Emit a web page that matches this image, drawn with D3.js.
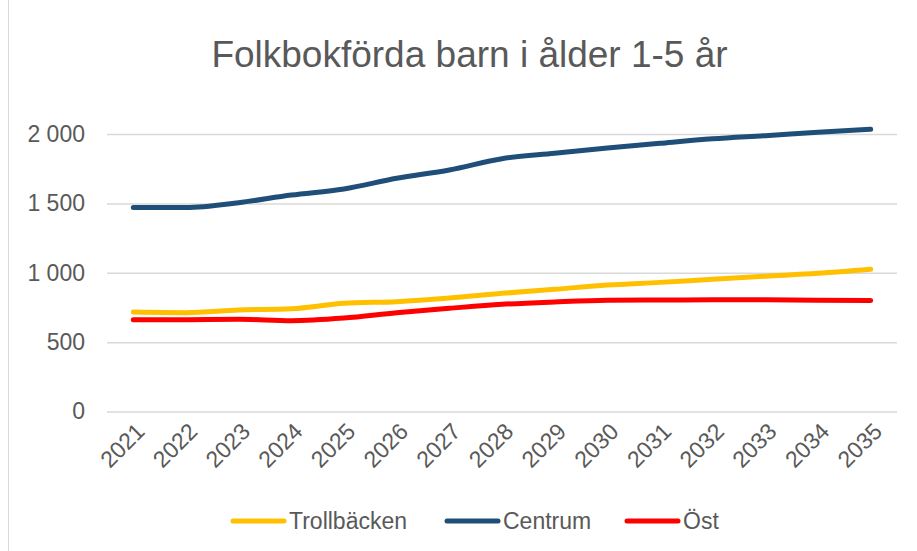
<!DOCTYPE html>
<html lang="sv">
  <head>
    <meta charset="UTF-8">
    <title>Folkbokförda barn i ålder 1-5 år</title>
    <script src="https://d3js.org/d3.v7.min.js"></script>
    <style>
      body { margin: 0; background: #fff; }
      text { font-family: "Liberation Sans", Arial, sans-serif; fill: #595959; }
    </style>
  </head>
  <body>
    <script>
      const years = [2021, 2022, 2023, 2024, 2025, 2026, 2027, 2028, 2029, 2030, 2031, 2032, 2033, 2034, 2035];
      const trollbacken = [717, 713, 732, 741, 780, 792, 818, 852, 881, 912, 931, 953, 975, 996, 1025];
      const centrum = [1470, 1470, 1505, 1560, 1604, 1681, 1741, 1822, 1861, 1899, 1933, 1965, 1988, 2012, 2034];
      const ost = [662, 662, 665, 655, 674, 712, 744, 773, 790, 802, 804, 805, 805, 803, 800];
      const yTicks = [0, 500, 1000, 1500, 2000];
      const seriesNames = ["Trollbäcken", "Centrum", "Öst"];
      const seriesColors = ["#FFC000", "#1F4E79", "#FF0000"];

      const w = 917;
      const h = 551;

      const svg = d3.select("body")
        .append("svg")
        .attr("width", w)
        .attr("height", h);

      // chart frame edge
      svg.append("line")
        .attr("x1", 8.5).attr("x2", 8.5)
        .attr("y1", 0).attr("y2", h)
        .attr("stroke", "#d9d9d9")
        .attr("stroke-width", 1);

      svg.append("text")
        .attr("x", 469.5)
        .attr("y", 67)
        .attr("text-anchor", "middle")
        .style("font-size", "37px")
        .text("Folkbokförda barn i ålder 1-5 år");

      const xScale = d3.scalePoint()
        .domain(years)
        .range([133.3, 870.7]);

      const yScale = d3.scaleLinear()
        .domain([0, 2000])
        .range([411.6, 134]);

      const sv = d3.formatLocale({ decimal: ",", thousands: " ", grouping: [3], currency: ["", " kr"] });
      const fmt = sv.format(",d");

      // gridlines + y labels
      const yAxis = d3.axisLeft(yScale)
        .tickValues(yTicks)
        .tickSize(-(897 - 107))
        .tickPadding(22)
        .tickFormat(fmt);

      const gy = svg.append("g")
        .attr("transform", "translate(107,0)")
        .call(yAxis);
      gy.select(".domain").remove();
      gy.selectAll(".tick line")
        .attr("stroke", "#d9d9d9")
        .attr("stroke-width", 1.5);
      gy.selectAll(".tick text")
        .style("font-size", "23px")
        .attr("fill", "#595959");

      // x labels
      const xAxis = d3.axisBottom(xScale).tickSize(0).tickPadding(0);
      const gx = svg.append("g")
        .attr("transform", "translate(0,411.6)")
        .call(xAxis);
      gx.select(".domain").remove();
      gx.selectAll(".tick text")
        .style("font-size", "23px")
        .attr("fill", "#595959")
        .attr("text-anchor", "end")
        .attr("dy", null)
        .attr("y", 0)
        .attr("transform", "translate(8,17) rotate(-45)")
        .attr("dominant-baseline", "middle");

      const series = [trollbacken, centrum, ost];

      const line = d3.line()
        .x((d, i) => xScale(years[i]))
        .y(d => yScale(d))
        .curve(d3.curveMonotoneX);

      svg.selectAll("path.series")
        .data(series)
        .enter()
        .append("path")
        .attr("class", "series")
        .attr("d", d => line(d))
        .attr("fill", "none")
        .attr("stroke", (d, i) => seriesColors[i])
        .attr("stroke-width", 5)
        .attr("stroke-linecap", "round")
        .attr("stroke-linejoin", "round");

      // legend
      const legendX = [231, 445, 625];
      const legend = svg.selectAll("g.legend")
        .data(seriesNames)
        .enter()
        .append("g")
        .attr("class", "legend")
        .attr("transform", (d, i) => `translate(${legendX[i]},521)`);

      legend.append("line")
        .attr("x1", 2).attr("x2", 53)
        .attr("y1", 0).attr("y2", 0)
        .attr("stroke", (d, i) => seriesColors[i])
        .attr("stroke-width", 5)
        .attr("stroke-linecap", "round");

      legend.append("text")
        .attr("x", 58)
        .attr("y", 8)
        .style("font-size", "23px")
        .text(d => d);
    </script>
  </body>
</html>
